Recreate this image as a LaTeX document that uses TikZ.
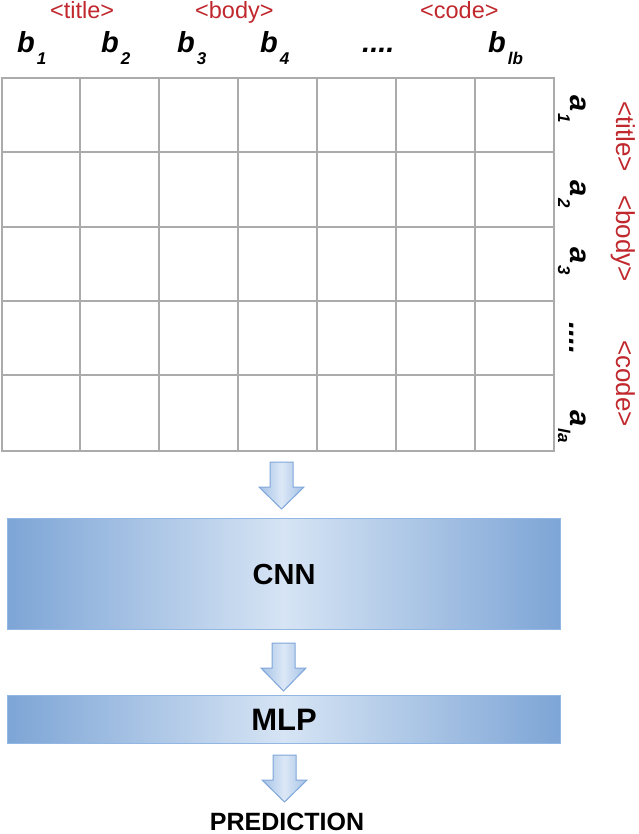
\documentclass[tikz,border=0pt]{standalone}
\usepackage{fontspec}
\setmainfont{Liberation Sans}
\definecolor{lblred}{HTML}{C0282D}
\definecolor{gridgray}{HTML}{ABABAB}
\definecolor{boxedge}{HTML}{7DA5D6}
\definecolor{boxmid}{HTML}{D6E4F4}
\definecolor{boxline}{HTML}{93B7E5}
\definecolor{arrline}{HTML}{7FA6D9}
\definecolor{arredge}{HTML}{A3C1E6}
\definecolor{arrmid}{HTML}{DCE8F6}
\newcommand\blab[2]{{\fontsize{29}{29}\selectfont\bfseries\itshape #1}\hspace{2pt}\raisebox{-12pt}{\fontsize{17}{17}\selectfont\bfseries\itshape #2}}
\begin{document}
\begin{tikzpicture}[x=1pt,y=-1pt,
  redlbl/.style={text=lblred, inner sep=0pt, font=\fontsize{23.5}{23.5}\selectfont},
  redrot/.style={text=lblred, inner sep=0pt, rotate=-90, anchor=base west, font=\fontsize{26}{26}\selectfont},
  vlbl/.style={inner sep=0pt, anchor=base west},
  alab/.style={inner sep=0pt, rotate=-90, anchor=base west},
  boxstyle/.style={draw=boxline, line width=1.2pt, left color=boxedge, right color=boxedge, middle color=boxmid, inner sep=0pt, anchor=north west, font=\bfseries},
  blockarrow/.style={draw=arrline, line width=1pt, left color=arredge, right color=arredge, middle color=arrmid, line join=miter}
]
\useasboundingbox (0,0) rectangle (638,834);

% grid
\node[draw=gridgray, line width=2pt, minimum width=552pt, minimum height=372.5pt, anchor=north west, inner sep=0pt] (grid) at (1,77) {};
\foreach \cx in {80,159,238,317,396,475} {
  \draw[gridgray, line width=2pt] (\cx,77) -- (\cx,449.5);
}
\foreach \ry in {152,227,301,375} {
  \draw[gridgray, line width=2pt] (1,\ry) -- (553,\ry);
}

% top red labels
\node[redlbl, anchor=base west] (tt) at (50,18.5) {<title>};
\node[redlbl, anchor=base west] (tb) at (195,18.5) {<body>};
\node[redlbl, anchor=base west] (tc) at (420,18.5) {<code>};

% b labels
\node[vlbl] (b1) at (17,53) {\blab{b}{1}};
\node[vlbl] (b2) at (101,53) {\blab{b}{2}};
\node[vlbl] (b3) at (177,53) {\blab{b}{3}};
\node[vlbl] (b4) at (260,53) {\blab{b}{4}};
\node[vlbl] (bd) at (362,53) {\fontsize{29}{29}\selectfont\bfseries\itshape ....};
\node[vlbl] (blb) at (488,53) {\blab{b}{lb}};

% a labels (rotated)
\node[alab] (a1) at (570,95) {\blab{a}{1}};
\node[alab] (a2) at (570,180) {\blab{a}{2}};
\node[alab] (a3) at (570,247) {\blab{a}{3}};
\node[alab] (ad) at (569,322) {\fontsize{29}{29}\selectfont\bfseries\itshape ....};
\node[alab] (ala) at (570,410) {\blab{a}{la}};

% right red labels
\node[redrot] (rt) at (616,101) {<title>};
\node[redrot] (rb) at (616,195) {<body>};
\node[redrot] (rc) at (616,340) {<code>};

% arrows
\begin{scope}[shift={(281.5,462)}]
  \path[blockarrow] (-11.5,0) -- (11.5,0) -- (11.5,25) -- (22.5,25) -- (0,47) -- (-22.5,25) -- (-11.5,25) -- cycle;
\end{scope}
\begin{scope}[shift={(283.5,643)}]
  \path[blockarrow] (-11.5,0) -- (11.5,0) -- (11.5,25) -- (22.5,25) -- (0,48) -- (-22.5,25) -- (-11.5,25) -- cycle;
\end{scope}
\begin{scope}[shift={(284.5,755)}]
  \path[blockarrow] (-11.5,0) -- (11.5,0) -- (11.5,25) -- (22.5,25) -- (0,47) -- (-22.5,25) -- (-11.5,25) -- cycle;
\end{scope}

% boxes
\node[boxstyle, minimum width=553pt, minimum height=111pt, font=\fontsize{29}{29}\selectfont\bfseries] (cnn) at (7,518) {CNN};
\node[boxstyle, minimum width=553pt, minimum height=48pt, font=\fontsize{31}{31}\selectfont\bfseries] (mlp) at (7,695) {MLP};

% prediction
\node[inner sep=0pt, anchor=base, font=\fontsize{25}{25}\selectfont\bfseries] (pred) at (287,830) {PREDICTION};
\end{tikzpicture}
\end{document}
